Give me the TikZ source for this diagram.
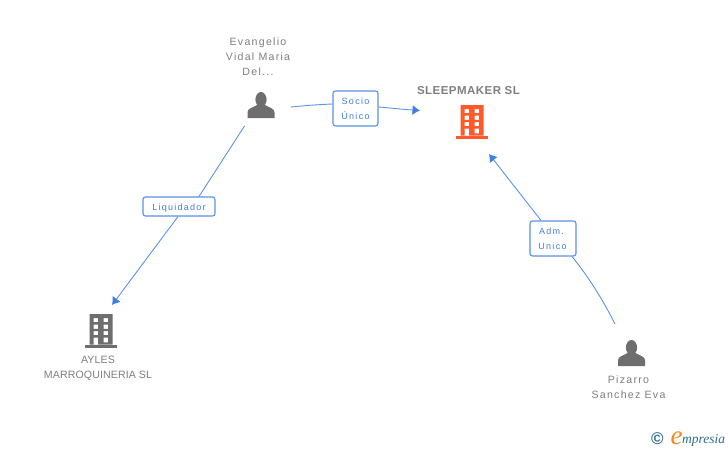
\documentclass[tikz,border=0pt]{standalone}
\usepackage{fontspec}
\usetikzlibrary{arrows.meta}
\setmainfont{Liberation Sans}
\newfontfamily\namefont[LetterSpace=12]{Liberation Sans}
\newfontfamily\aylesfont[LetterSpace=1]{Liberation Sans}
\newfontfamily\titlefont[LetterSpace=4]{Liberation Sans}
\newfontfamily\lblfont[LetterSpace=14]{Liberation Sans}
\newfontfamily\logofont{Liberation Serif}
\definecolor{icongray}{HTML}{6E6E6E}
\definecolor{txtgray}{HTML}{7F7F7F}
\definecolor{linkblue}{HTML}{5B93E6}
\definecolor{tipblue}{HTML}{3F7FE0}
\definecolor{lblblue}{HTML}{3F7FD8}
\definecolor{orangeb}{HTML}{FF5A2C}
\definecolor{logoteal}{HTML}{2F6F8A}
\definecolor{logoorange}{HTML}{F08A1E}
\tikzset{
  x=1pt,y=-1pt,
  nametext/.style={font=\namefont\fontsize{10.6}{14.8}\selectfont,text=txtgray,align=center,inner sep=0pt},
  linklabel/.style={draw=linkblue,line width=1.1pt,rounded corners=2.5pt,fill=white,font=\lblfont\fontsize{9}{15}\selectfont,text=lblblue,align=center,inner sep=0pt},
  link/.style={draw=linkblue,line width=0.9pt},
  linkarrow/.style={link,-{Latex[length=7.5pt,width=10pt,color=tipblue]}},
  pics/person/.style={code={
    \fill[icongray] (0,-5.5) ellipse (5.6 and 7.5);
    \fill[icongray] (-13.5,13) -- (-13.5,7.5) .. controls (-13.5,3.5) and (-9,3) .. (-4,0) -- (4,0) .. controls (9,3) and (13.5,3.5) .. (13.5,7.5) -- (13.5,13) -- cycle;
  }},
  pics/building/.style={code={
    \fill[#1,even odd rule] (-11.5,-33.5) rectangle (11.5,-3)
      (-7.5,-29.5) rectangle (-3,-25.5)
      (2.5,-29.5) rectangle (7,-25.5)
      (-7.5,-23) rectangle (-3,-18.7)
      (2.5,-23) rectangle (7,-18.7)
      (-7.5,-16.5) rectangle (-3,-12.5)
      (2.5,-16.5) rectangle (7,-12.5)
      (-7.5,-10) rectangle (-3,-3)
      (2.5,-10) rectangle (7,-5.2);
    \fill[#1] (-16,-3) rectangle (16,0);
  }}
}
\begin{document}
\begin{tikzpicture}
\useasboundingbox (0,0) rectangle (728,450);
\fill[white] (0,0) rectangle (728,450);
% icons
\pic at (261,105) {person};
\pic at (631.5,353) {person};
\pic at (472,138.5) {building=orangeb};
\pic at (101,347.5) {building=icongray};
% names
\node[nametext] (evangelio) at (258,56.5) {Evangelio\\Vidal Maria\\Del...};
\node[font=\titlefont\fontsize{11.5}{13}\selectfont\bfseries,text=txtgray,inner sep=0pt] (sleepmaker) at (468.5,91) {SLEEPMAKER SL};
\node[nametext,font=\aylesfont\fontsize{10.6}{14.8}\selectfont] (ayles) at (98,368) {AYLES\\MARROQUINERIA SL};
\node[nametext] (pizarro) at (628.5,387) {Pizarro\\Sanchez Eva};
% labels
\node[linklabel,minimum width=45pt,minimum height=35pt] (socio) at (355.5,108.5) {Socio\\Único};
\node[linklabel,minimum width=72pt,minimum height=19pt] (liquidador) at (179,206.5) {\raisebox{-1.5pt}[7pt][2pt]{Liquidador}};
\node[linklabel,minimum width=46pt,minimum height=35pt] (adm) at (553,238.5) {\raisebox{-1pt}{\hspace*{-3pt}Adm.}\\\raisebox{-1pt}{\hspace*{-1pt}Unico}};
% free ends
\coordinate (e1) at (291,107);
\coordinate (t1) at (420,110.5);
\coordinate (e2) at (244.5,126);
\coordinate (t2) at (112,305);
\coordinate (e3) at (615,324);
\coordinate (t3) at (489,154);
% connectors
\draw[link] (e1) .. controls (305,105.5) and (320,104.5) .. (socio.west |- 0,104);
\draw[linkarrow] (socio.east |- 0,107) .. controls (390,108) and (405,109.5) .. (t1);
\draw[link] (e2) -- (liquidador.north -| 199,0);
\draw[linkarrow] (liquidador.south -| 178,0) -- (t2);
\draw[link] (e3) .. controls (603,300) and (588,276) .. (adm.south -| 572,0);
\draw[linkarrow] (adm.north -| 541,0) -- (t3);
% logo
\node[inner sep=0pt,text=logoteal,font=\fontsize{17}{17}\selectfont\bfseries] (copy) at (657.5,438.5) {©};
\node[inner sep=0pt,anchor=base west,text=logoorange,font=\logofont\itshape\fontsize{27}{27}\selectfont] (elogo) at (670.5,444) {e};
\node[inner sep=0pt,anchor=base west,text=logoteal,font=\logofont\itshape\fontsize{13.5}{13.5}\selectfont] (mpresia) at (682,443) {mpresia};
\end{tikzpicture}
\end{document}
